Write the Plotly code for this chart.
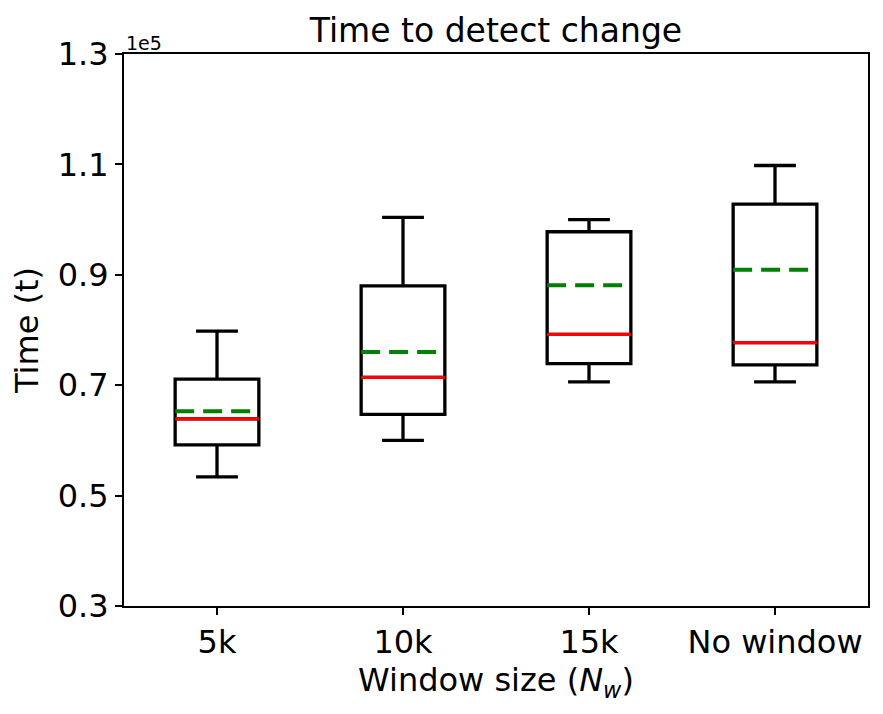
import plotly.graph_objs as go

# Box statistics (raw time units)
categories = ['5k', '10k', '15k', 'No window']
positions = [1, 2, 3, 4]
lower_whisker = [53400, 60000, 70600, 70600]
q1 = [59200, 64700, 73900, 73700]
medians = [63900, 71400, 79200, 77700]
means = [65300, 76000, 88100, 90900]
q3 = [71100, 88000, 97800, 102800]
upper_whisker = [79800, 100400, 100000, 109800]

y_ticks = [30000, 50000, 70000, 90000, 110000, 130000]
y_tick_labels = ['0.3', '0.5', '0.7', '0.9', '1.1', '1.3']

box_width = 0.45
font = 'DejaVu Sans'

fig = go.Figure()

# Boxes and whiskers
fig.add_trace(go.Box(
    x=positions,
    q1=q1,
    median=medians,
    q3=q3,
    lowerfence=lower_whisker,
    upperfence=upper_whisker,
    width=box_width,
    whiskerwidth=0.5,
    line=dict(color='black', width=3.3),
    fillcolor='rgba(0,0,0,0)',
    boxpoints=False,
    showlegend=False,
    hoverinfo='skip'
))

# Median lines (red) and mean lines (green dashed) across each box
med_x, med_y, mean_x, mean_y = [], [], [], []
for p, m, a in zip(positions, medians, means):
    med_x += [p - box_width / 2, p + box_width / 2, None]
    med_y += [m, m, None]
    mean_x += [p - box_width / 2, p + box_width / 2, None]
    mean_y += [a, a, None]

fig.add_trace(go.Scatter(
    x=mean_x, y=mean_y, mode='lines',
    line=dict(color='green', width=4, dash='19px,9px'),
    showlegend=False, hoverinfo='skip'
))
fig.add_trace(go.Scatter(
    x=med_x, y=med_y, mode='lines',
    line=dict(color='red', width=3.3),
    showlegend=False, hoverinfo='skip'
))

fig.update_layout(
    width=883,
    height=714,
    margin=dict(l=124, r=15, t=54, b=108),
    paper_bgcolor='white',
    plot_bgcolor='white',
    font=dict(family=font, size=32, color='black'),
    title=dict(text='Time to detect change', x=0.5, xref='paper', xanchor='center',
               y=1, yref='paper', yanchor='bottom', pad=dict(b=12),
               font=dict(size=33)),
)

fig.update_xaxes(
    range=[0.5, 4.5],
    tickvals=positions,
    ticktext=categories,
    tickfont=dict(size=32),
    ticks='outside', ticklen=7, tickwidth=2, tickcolor='black',
    showline=True, linecolor='black', linewidth=2, mirror=True,
    showgrid=False, zeroline=False,
    title=dict(text='Window size (<i>N</i><sub><i>w</i></sub>)', standoff=6,
               font=dict(size=32)),
)
fig.update_yaxes(
    range=[30000, 130000],
    tickvals=y_ticks,
    ticktext=y_tick_labels,
    tickfont=dict(size=32),
    ticks='outside', ticklen=7, tickwidth=2, tickcolor='black',
    showline=True, linecolor='black', linewidth=2, mirror=True,
    showgrid=False, zeroline=False,
    title=dict(text='Time (t)', standoff=10, font=dict(size=32)),
)

# Offset text for the y axis scale
fig.add_annotation(
    text='1e5', x=0, y=1, xref='paper', yref='paper',
    xanchor='left', yanchor='bottom', showarrow=False,
    font=dict(size=19), yshift=-2
)

# drop the default page margin so the figure sits at the window corner
fig.write_html("out.html", config={'displayModeBar': False},
               post_script="document.body.style.margin='0';")
